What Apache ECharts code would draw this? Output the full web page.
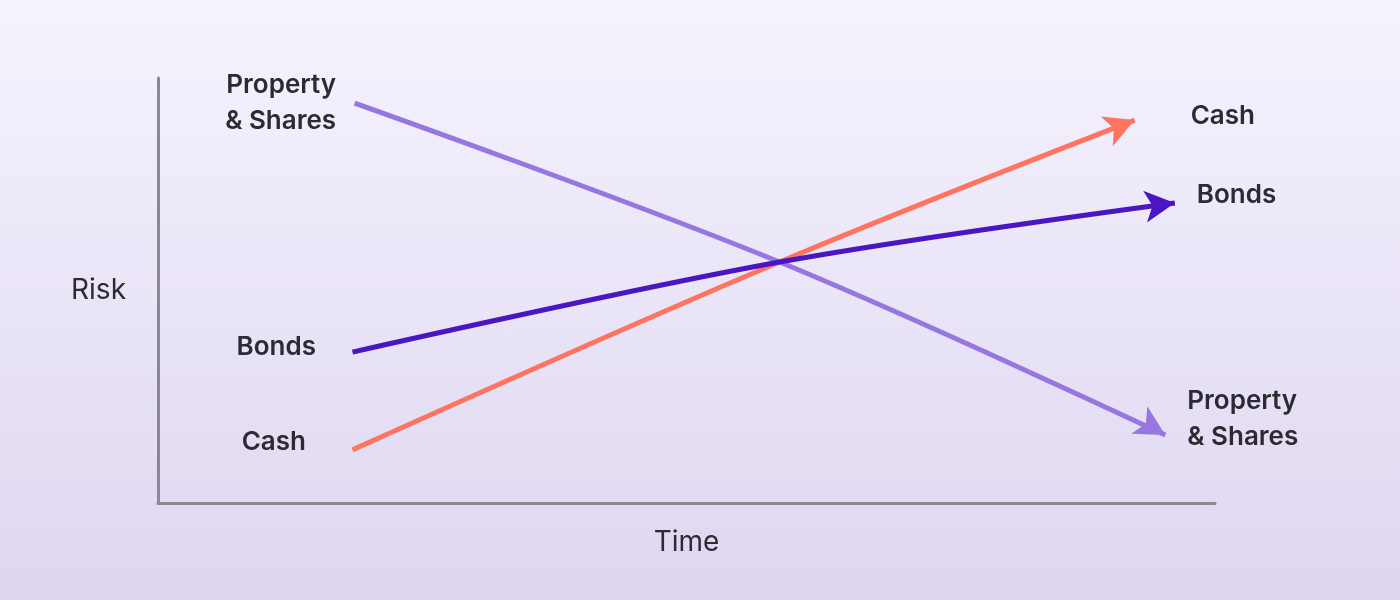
<!DOCTYPE html>
<html><head><meta charset="utf-8">
<script src="https://cdn.jsdelivr.net/npm/echarts@6/dist/echarts.min.js"></script>
<style>html,body{margin:0;padding:0}#c{width:1400px;height:600px;background:linear-gradient(#f6f3fd,#ded6f1)}</style>
</head><body><div id="c"></div>
<script>
// x = time (0-100), y = risk (0-100)
const property_pts = [[18.6, 94.1], [58.8, 56.7], [95.3, 16]];
const cash_pts = [[18.4, 12.5], [58.8, 56.7], [92.4, 90.1]];
const bonds_pts = [[18.4, 35.5], [58.8, 56.7], [96.2, 70.6]];
const series_names = ['Property\n& Shares', 'Cash', 'Bonds'];

var chart = echarts.init(document.getElementById('c'));
var textStyle = { fontFamily: 'Inter', fontWeight: 600, fontSize: 26, color: '#2d2a33', lineHeight: 36 };

function build(pts, name, color, arrowRot, leftLab, rightLab) {
    var data = pts.map(function (p, i) {
        var d = { value: p, symbol: 'none', label: { show: false } };
        if (i === 0) {
            d.symbol = 'circle';
            d.symbolSize = 1;
            d.itemStyle = { color: 'rgba(0,0,0,0)' };
            d.label = Object.assign({ show: true, position: 'left', distance: leftLab.dist, offset: [0, leftLab.dy], formatter: name, align: 'right' }, textStyle);
        }
        if (i === pts.length - 1) {
            d.symbol = 'arrow';
            d.symbolSize = [24, 30];
            d.symbolRotate = arrowRot;
            d.itemStyle = { color: color };
            d.label = Object.assign({ show: true, position: 'right', distance: rightLab.dist, offset: [0, rightLab.dy], formatter: name, align: 'left' }, textStyle);
        }
        return d;
    });
    return {
        type: 'line', smooth: 0.35, data: data, showSymbol: true, silent: true,
        lineStyle: { color: color, width: 5 }, itemStyle: { color: color }, z: 3
    };
}

chart.setOption({
    animation: false,
    grid: { left: 158, right: 185, top: 78, bottom: 97 },
    xAxis: {
        type: 'value', min: 0, max: 100, name: 'Time', nameLocation: 'middle', nameGap: 26,
        nameTextStyle: { fontFamily: 'Inter', fontSize: 28, color: '#2d2a33' },
        axisLine: { show: true, lineStyle: { color: '#8a8894', width: 3 } },
        axisTick: { show: false }, axisLabel: { show: false }, splitLine: { show: false }
    },
    yAxis: {
        type: 'value', min: 0, max: 100, name: 'Risk', nameLocation: 'middle', nameGap: 32, nameRotate: 0,
        nameTextStyle: { fontFamily: 'Inter', fontSize: 28, color: '#2d2a33', align: 'right' },
        axisLine: { show: true, lineStyle: { color: '#8a8894', width: 3 } },
        axisTick: { show: false }, axisLabel: { show: false }, splitLine: { show: false }
    },
    series: [
        build(property_pts, series_names[0], '#9776e0', -120, { dist: 18, dy: 0 }, { dist: 14, dy: -8 }),
        build(cash_pts, series_names[1], '#ff7461', -68, { dist: 46, dy: -8 }, { dist: 50, dy: -10 }),
        build(bonds_pts, series_names[2], '#4a16c4', -83, { dist: 36, dy: -5 }, { dist: 20, dy: -10 })
    ]
});
</script></body></html>
